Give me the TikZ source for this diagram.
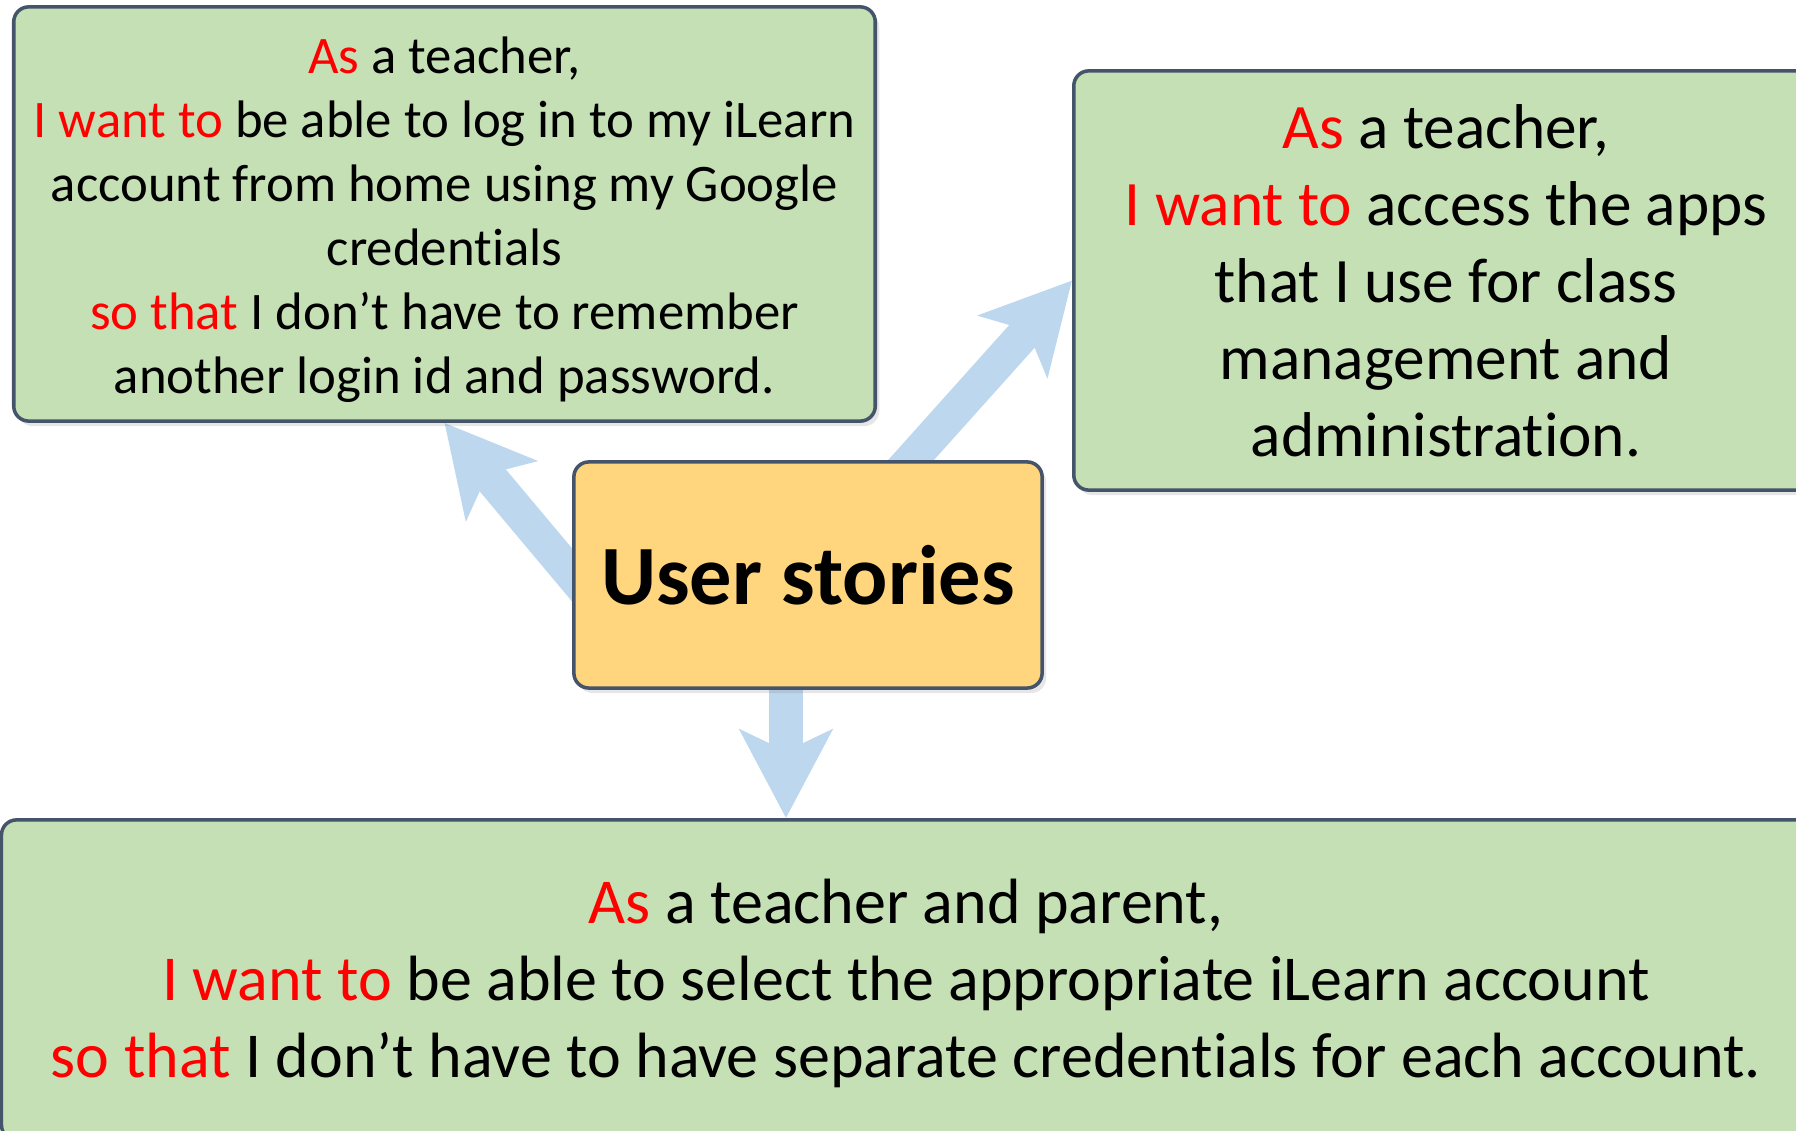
\documentclass[tikz,border=0pt]{standalone}
\usepackage{fontspec}
\setmainfont{Carlito}[Ligatures=NoCommon]
\usetikzlibrary{arrows.meta, calc, shadows, backgrounds}
\definecolor{boxgreen}{HTML}{C5E0B4}
\definecolor{boxedge}{HTML}{44546A}
\definecolor{hubgold}{HTML}{FFD67D}
\definecolor{arrowblue}{HTML}{BDD7EE}
\newcommand{\kw}[1]{\textcolor{red}{#1}}
\newcommand{\lift}[1]{\rule{0pt}{\dimexpr\fontcharht\font`h+#1\relax}}

\begin{document}
\begin{tikzpicture}[x=0.01cm, y=-0.01cm, >={Stealth[length=25pt, width=26pt, inset=6pt]},
		storybox/.style={draw=boxedge, line width=1pt, fill=boxgreen, rounded corners=0.15cm, align=center, inner sep=0pt,
			drop shadow={shadow xshift=0.04cm, shadow yshift=-0.05cm, opacity=0.2}},
		hubbox/.style={storybox, fill=hubgold},
		fatarrow/.style={->, draw=arrowblue, line width=9.7pt}]
			\path[use as bounding box, clip] (0,0) rectangle (1796,1131);
			% Cau chuyen nguoi dung
			\node[storybox, minimum width=8.61cm, minimum height=4.14cm, font=\fontsize{15}{18.2}\selectfont] (login) at (444.5,214)
				{\lift{3.4pt}\kw{As} a teacher,\\ \kw{I want to} be able to log in to my iLearn\\ account from home using my Google\\ credentials\\ \kw{so that} I don’t have to remember\\ another login id and password.};
			\node[storybox, minimum width=7.44cm, minimum height=4.19cm, font=\fontsize{18}{21.9}\selectfont] (apps) at (1446,280.5)
				{\kw{As} a teacher,\\ \kw{I want to} access the apps\\ that I use for class\\ management and\\ administration.};
			\node[storybox, minimum width=18.08cm, minimum height=3.2cm, font=\fontsize{18.2}{21.9}\selectfont] (account) at (906,980)
				{\lift{2pt}\kw{As} a teacher and parent,\\ \kw{I want to} be able to select the appropriate iLearn account\\ \kw{so that} I don’t have to have separate credentials for each account.};
			% O giua
			\node[hubbox, minimum width=4.68cm, minimum height=2.26cm, font=\fontsize{24}{29}\selectfont\bfseries] (hub) at (808,575) {User stories};
			% Mui ten
			\begin{scope}[on background layer]
				\draw[fatarrow] ($(login.south)!1.3!(hub.west)$) -- (login.south);
				\draw[fatarrow] (hub.center) -- (apps.west);
				\draw[fatarrow] ([xshift=-0.22cm]hub.center) -- ([xshift=-0.22cm]hub.center |- account.north);
			\end{scope}
		\end{tikzpicture}
\end{document}
